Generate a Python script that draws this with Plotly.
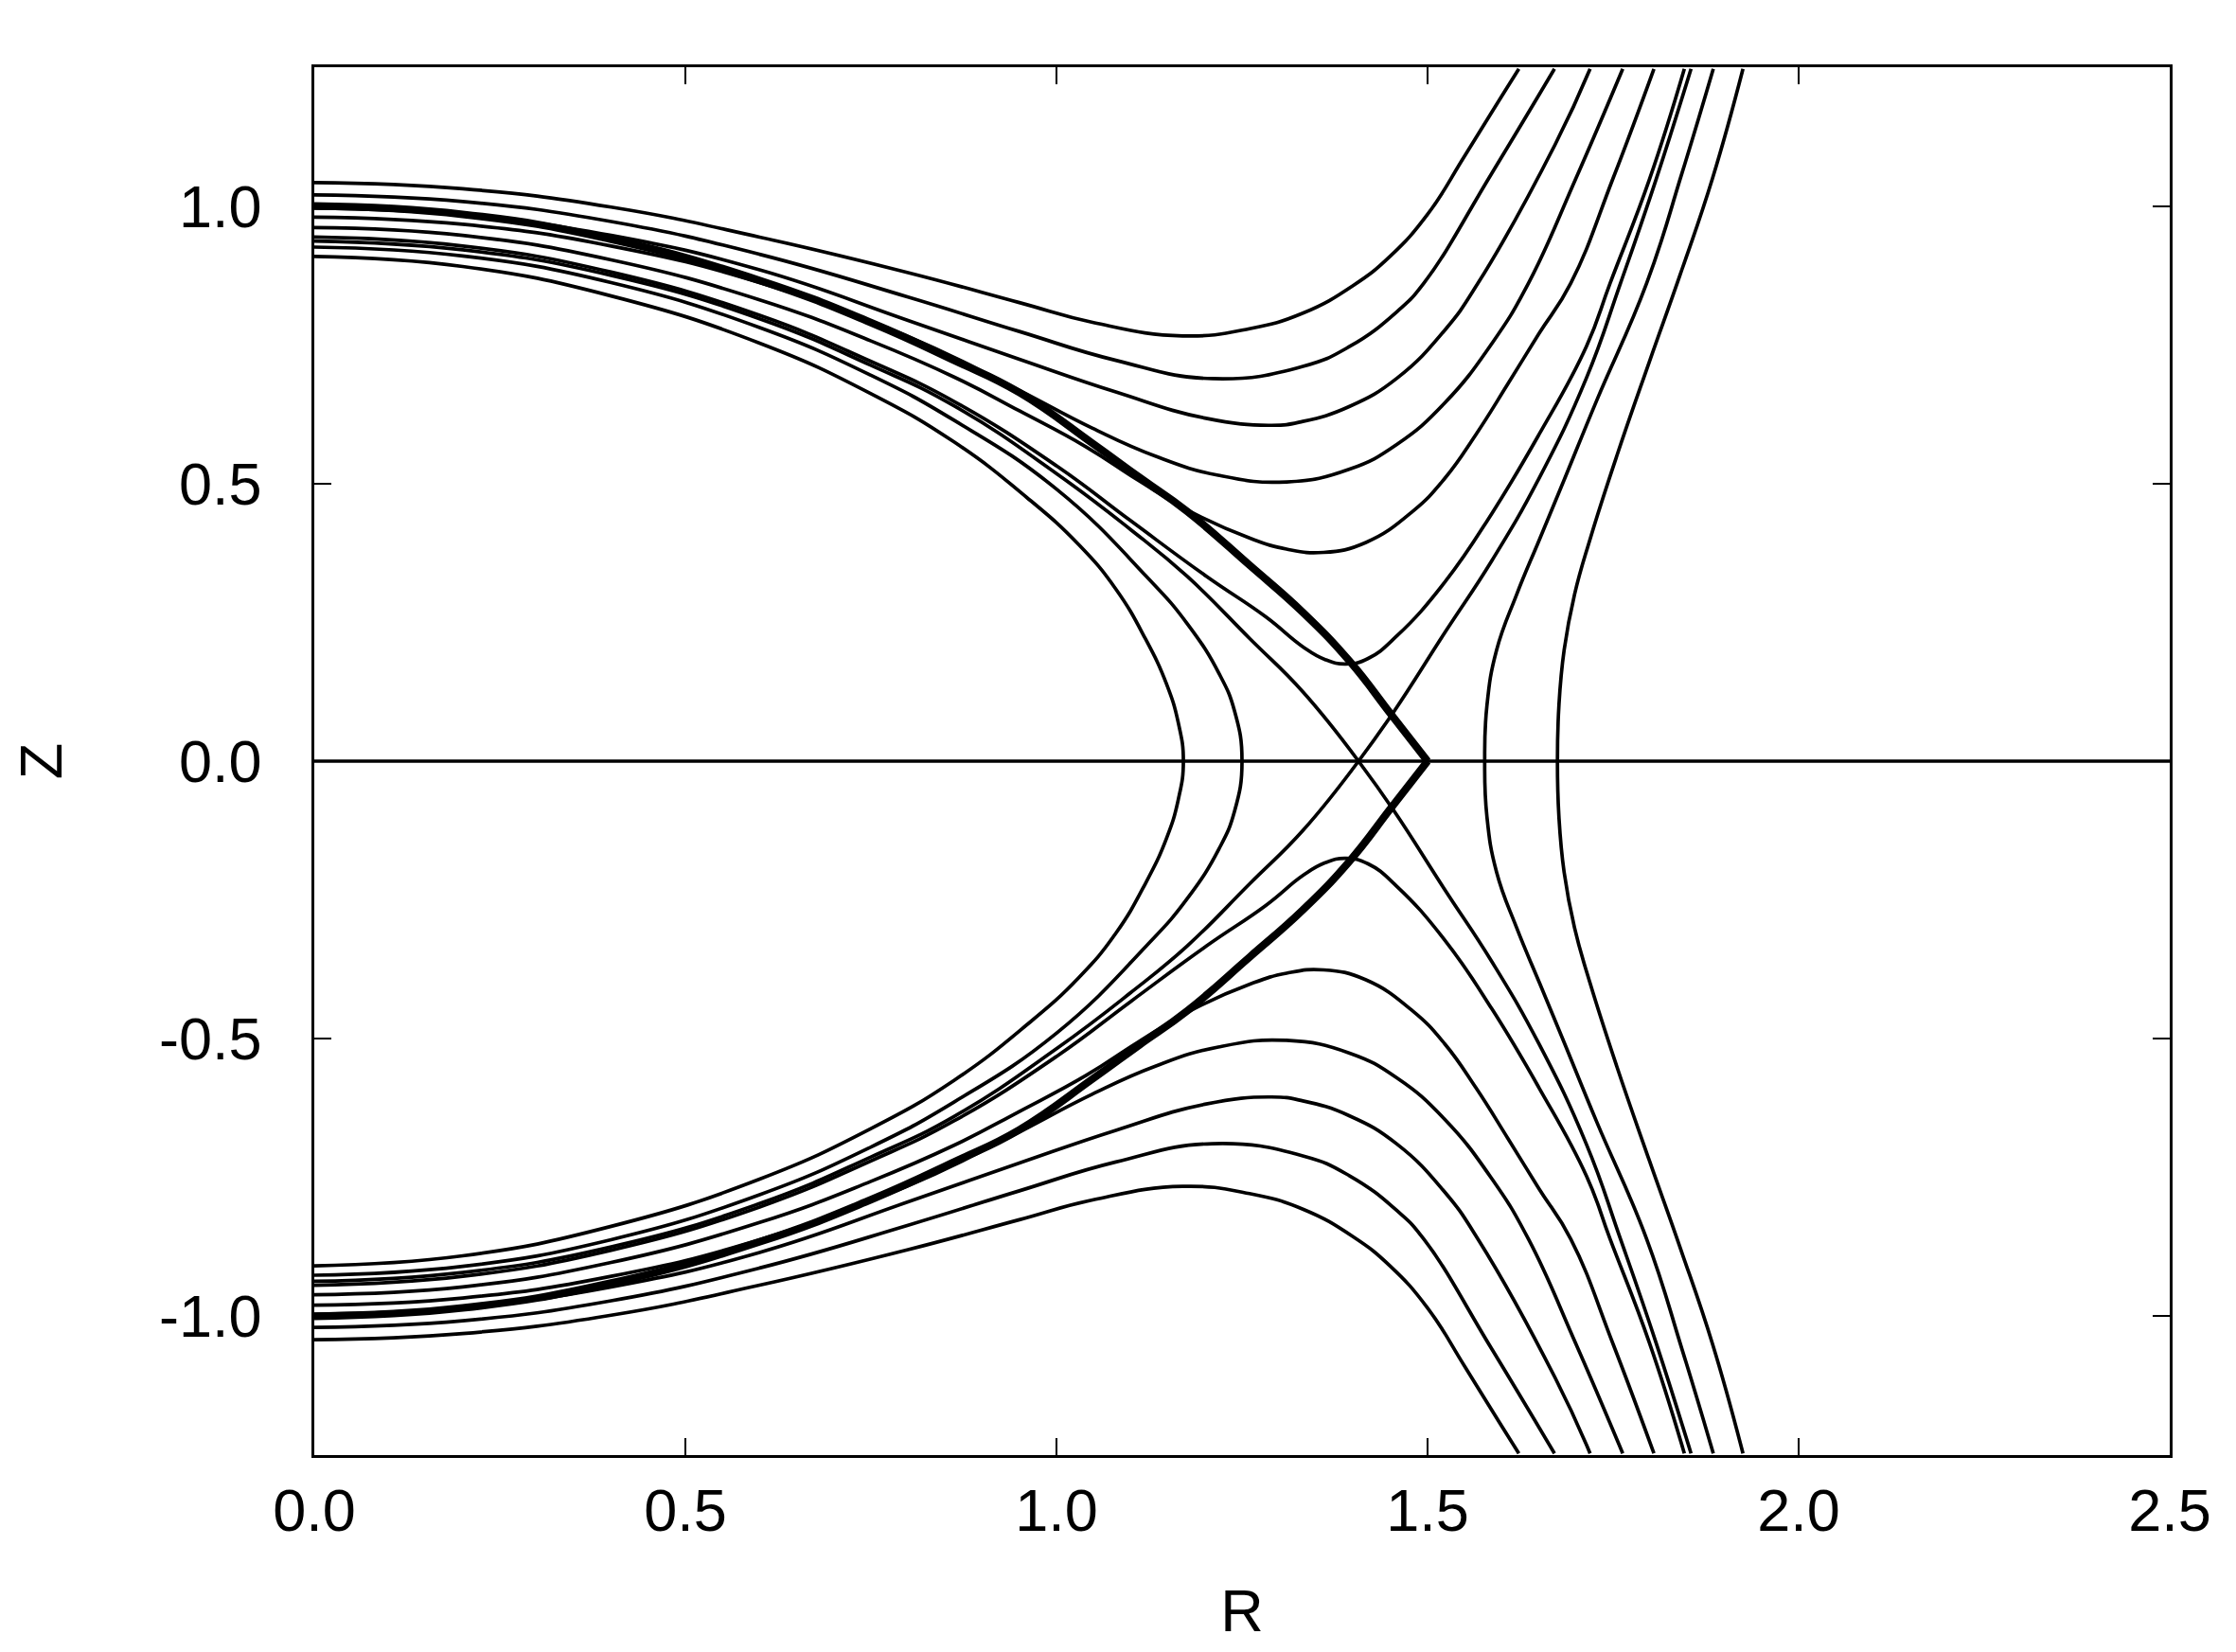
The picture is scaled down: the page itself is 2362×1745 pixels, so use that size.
import plotly.graph_objects as go

# ---------------- data (upper half, Z >= 0; lower half is the mirror image) ----------------
# Open field lines above the separatrix (start on R=0, leave through the top)
H6_R = [0.0, 0.2, 0.4, 0.6, 0.8, 0.95, 1.05, 1.17, 1.26, 1.332, 1.40, 1.45, 1.50, 1.55, 1.60, 1.623]
H6_Z = [1.042, 1.031, 0.998, 0.944, 0.880, 0.826, 0.790, 0.766, 0.779, 0.807, 0.857, 0.910, 0.985, 1.090, 1.198, 1.247]

H5_R = [0.0, 0.2, 0.4, 0.6, 0.8, 0.95, 1.08, 1.21, 1.332, 1.395, 1.459, 1.495, 1.587, 1.671]
H5_Z = [1.020, 1.008, 0.972, 0.913, 0.836, 0.774, 0.722, 0.689, 0.711, 0.747, 0.810, 0.861, 1.060, 1.247]

H4_R = [0.0, 0.2, 0.4, 0.6, 0.8, 0.95, 1.08, 1.20, 1.29, 1.332, 1.395, 1.459, 1.523, 1.568, 1.672, 1.719]
H4_Z = [0.996, 0.984, 0.947, 0.885, 0.794, 0.724, 0.665, 0.618, 0.605, 0.612, 0.639, 0.690, 0.776, 0.861, 1.111, 1.247]

H3_R = [0.0, 0.2, 0.4, 0.6, 0.8, 0.934, 1.048, 1.134, 1.218, 1.31, 1.395, 1.459, 1.523, 1.587, 1.636, 1.70, 1.763]
H3_Z = [0.980, 0.967, 0.928, 0.862, 0.765, 0.679, 0.600, 0.549, 0.515, 0.503, 0.526, 0.571, 0.645, 0.753, 0.861, 1.050, 1.247]

H2_R = [0.0, 0.2, 0.4, 0.6, 0.75, 0.862, 0.95, 1.04, 1.11, 1.184, 1.26, 1.31, 1.36, 1.417, 1.48, 1.523, 1.565, 1.608, 1.65, 1.693, 1.75, 1.805]
H2_Z = [0.961, 0.947, 0.903, 0.831, 0.757, 0.692, 0.631, 0.566, 0.506, 0.447, 0.402, 0.382, 0.376, 0.394, 0.450, 0.509, 0.588, 0.679, 0.770, 0.861, 1.050, 1.247]

H1_R = [0.0, 0.2, 0.4, 0.6, 0.75, 0.862, 1.0, 1.10, 1.202, 1.282, 1.332, 1.362, 1.39, 1.42, 1.459, 1.523, 1.587, 1.65, 1.714, 1.746, 1.799, 1.846]
H1_Z = [0.944, 0.928, 0.881, 0.803, 0.720, 0.648, 0.532, 0.433, 0.333, 0.260, 0.206, 0.183, 0.175, 0.185, 0.226, 0.322, 0.447, 0.588, 0.747, 0.861, 1.048, 1.247]

# Separatrix through the X-point
SL_R = [0.0, 0.2, 0.4, 0.6, 0.75, 0.862, 1.0, 1.10, 1.176, 1.261, 1.332, 1.407]
SL_Z = [0.937, 0.921, 0.875, 0.797, 0.713, 0.640, 0.518, 0.417, 0.333, 0.220, 0.125, 0.0]
SR_R = [1.407, 1.455, 1.523, 1.587, 1.650, 1.714, 1.760, 1.808, 1.855]
SR_Z = [0.0, 0.090, 0.231, 0.362, 0.509, 0.690, 0.861, 1.048, 1.247]

# Closed surfaces inside the separatrix
I2_R = [0.0, 0.2, 0.4, 0.6, 0.75, 0.862, 1.0, 1.121, 1.176, 1.219, 1.240, 1.250]
I2_Z = [0.926, 0.910, 0.862, 0.781, 0.695, 0.614, 0.490, 0.333, 0.248, 0.158, 0.090, 0.0]
I1_R = [0.0, 0.2, 0.4, 0.6, 0.75, 0.862, 0.96, 1.03, 1.08, 1.12, 1.148, 1.164, 1.171]
I1_Z = [0.909, 0.891, 0.838, 0.753, 0.662, 0.575, 0.475, 0.390, 0.310, 0.220, 0.140, 0.070, 0.0]

# Open lines outside the separatrix (cross the midplane)
O1_R = [1.577, 1.580, 1.593, 1.620, 1.651, 1.682, 1.728, 1.795, 1.843, 1.885]
O1_Z = [0.0, 0.10, 0.20, 0.30, 0.40, 0.50, 0.65, 0.86, 1.06, 1.247]
O2_R = [1.675, 1.677, 1.684, 1.698, 1.719, 1.755, 1.799, 1.840, 1.884, 1.925]
O2_Z = [0.0, 0.10, 0.20, 0.30, 0.40, 0.55, 0.72, 0.875, 1.05, 1.247]

# Thick boundary curve
T_R = [0.0, 0.2, 0.4, 0.6, 0.75, 0.862, 0.95, 1.048, 1.112, 1.176, 1.261, 1.332, 1.395, 1.451, 1.5]
T_Z = [1.0, 0.985, 0.940, 0.866, 0.790, 0.722, 0.664, 0.573, 0.511, 0.450, 0.352, 0.268, 0.180, 0.084, 0.0]

# Midplane line
MID_R = [0.0, 2.5]
MID_Z = [0.0, 0.0]

X_TICKS = [0.0, 0.5, 1.0, 1.5, 2.0, 2.5]
X_TICK_TEXT = ["0.0", "0.5", "1.0", "1.5", "2.0", "2.5"]
Y_TICKS = [-1.0, -0.5, 0.0, 0.5, 1.0]
Y_TICK_TEXT = ["-1.0", "-0.5", "0.0", "0.5", "1.0"]

# ---------------- figure ----------------
THIN = 3.7
THICK = 8.0
fig = go.Figure()


def add(r, z, width=THIN):
    fig.add_trace(go.Scatter(x=r, y=z, mode="lines",
                             line=dict(color="black", width=width, shape="spline", smoothing=1.3),
                             hoverinfo="skip", showlegend=False))


def mirror(z):
    return [-v for v in z]


# open lines above/below
for r, z in [(H6_R, H6_Z), (H5_R, H5_Z), (H4_R, H4_Z), (H3_R, H3_Z), (H2_R, H2_Z), (H1_R, H1_Z)]:
    add(r, z)
    add(r, mirror(z))

# separatrix branches
add(SL_R, SL_Z)
add(SL_R, mirror(SL_Z))
add(SR_R, SR_Z)
add(SR_R, mirror(SR_Z))

# closed curves crossing the midplane (from R=0 top, through midplane, back to R=0 bottom)
for r, z in [(I1_R, I1_Z), (I2_R, I2_Z)]:
    add(r + r[-2::-1], z + mirror(z[-2::-1]))

# outer curves (top -> midplane -> bottom)
for r, z in [(O1_R, O1_Z), (O2_R, O2_Z)]:
    add(r[::-1] + r[1:], z[::-1] + mirror(z[1:]))

# midplane
fig.add_trace(go.Scatter(x=MID_R, y=MID_Z, mode="lines",
                         line=dict(color="black", width=THIN),
                         hoverinfo="skip", showlegend=False))

# thick boundary
add(T_R, T_Z, THICK)
add(T_R, mirror(T_Z), THICK)

FONT = dict(family="Liberation Sans, Arial, sans-serif", size=63, color="black")

fig.update_layout(
    width=2362, height=1745,
    margin=dict(l=324, r=78, t=63, b=216),
    paper_bgcolor="white", plot_bgcolor="white",
    font=FONT,
    showlegend=False,
)
fig.update_xaxes(
    range=[0, 2.5], tickvals=X_TICKS, ticktext=X_TICK_TEXT,
    showgrid=False, zeroline=False,
    showline=True, linecolor="black", linewidth=2.7, mirror="ticks",
    ticks="inside", ticklen=18, tickwidth=2, tickcolor="black",
    ticklabelstandoff=2,
    tickfont=FONT,
    title=dict(text="R", font=FONT, standoff=50),
)
fig.update_yaxes(
    range=[-1.25, 1.25], tickvals=Y_TICKS, ticktext=Y_TICK_TEXT,
    showgrid=False, zeroline=False,
    showline=True, linecolor="black", linewidth=2.7, mirror="ticks",
    ticks="inside", ticklen=18, tickwidth=2, tickcolor="black",
    ticklabelstandoff=40,
    tickfont=FONT,
    title=dict(text="Z", font=FONT, standoff=90),
)

fig.write_html("out.html")
